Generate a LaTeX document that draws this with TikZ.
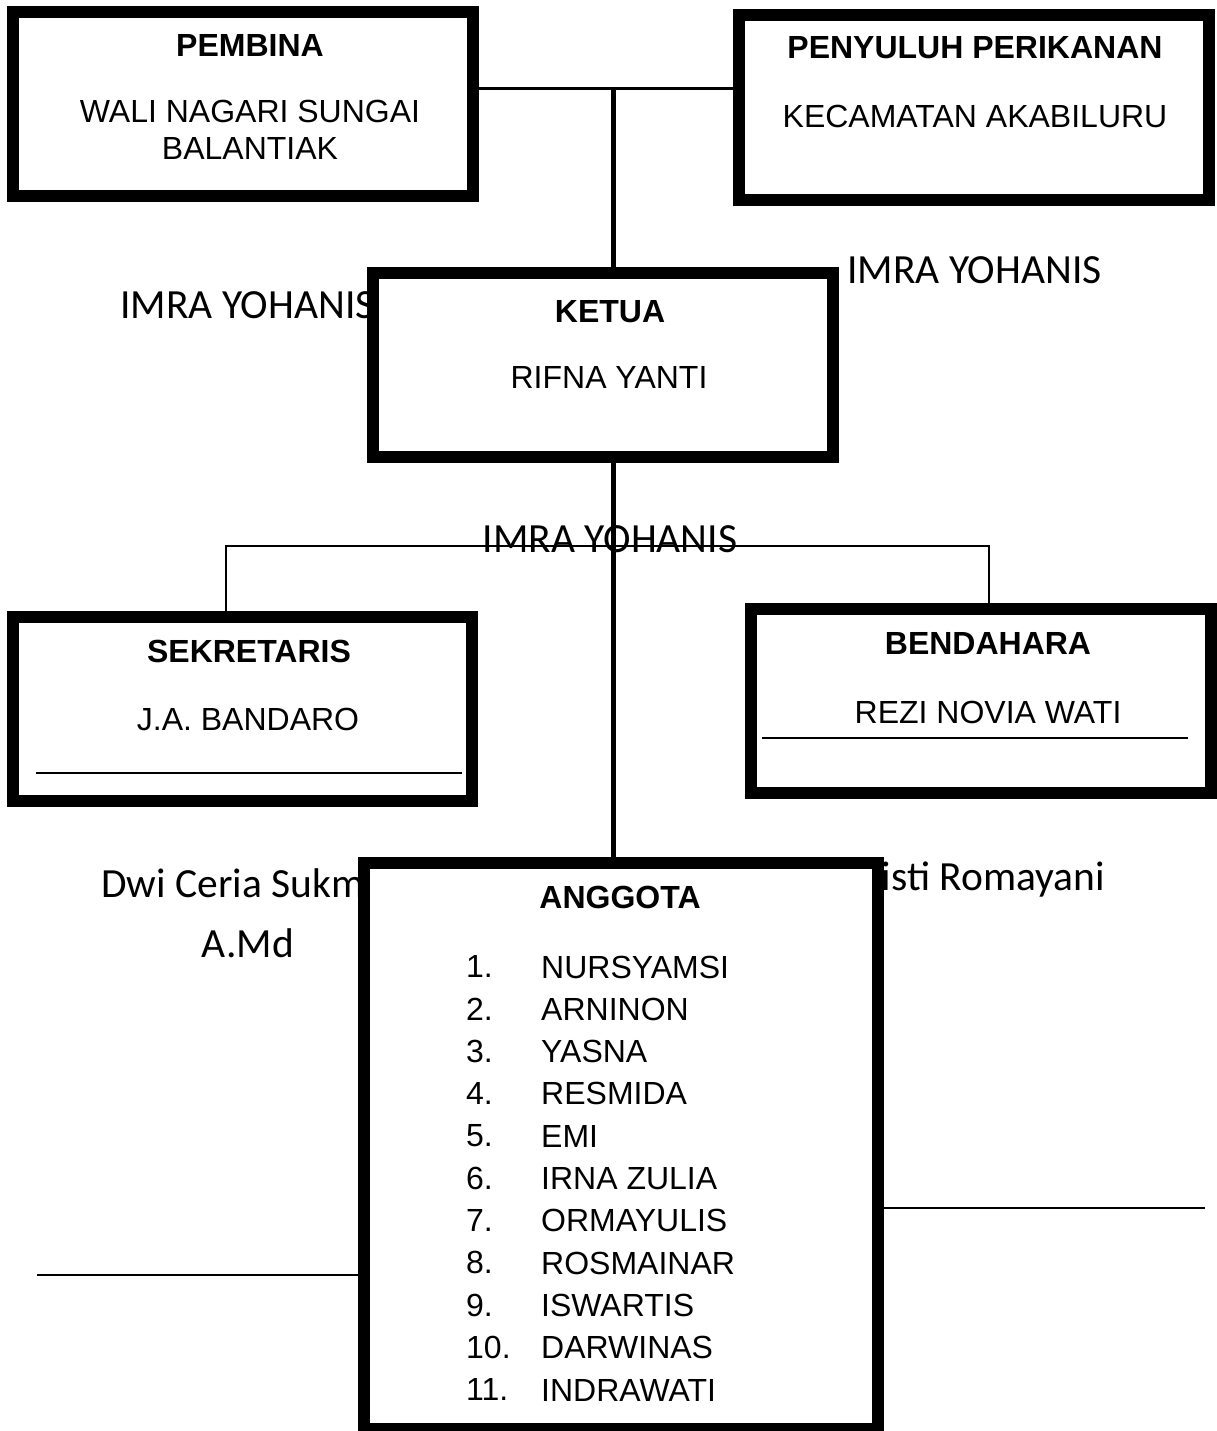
\documentclass[tikz,border=0pt]{standalone}
\usepackage{fontspec}
\setmainfont{Liberation Sans}
\newfontfamily\calibrifont{Carlito}
\usepackage{tikz}

\tikzset{
    kotak/.style={draw, line width=12pt, fill=white, inner sep=0pt},
    judul/.style={font=\bfseries\fontsize{32}{37}\selectfont, inner sep=0pt},
    isi/.style={font=\fontsize{32}{37}\selectfont, inner sep=0pt, align=center},
    daftar/.style={font=\fontsize{32}{42.3}\selectfont, inner sep=0pt, align=left, anchor=north west},
    nama/.style={font=\calibrifont\fontsize{41.5}{50}\selectfont, inner sep=0pt},
    garis/.style={line width=2pt}
}

\begin{document}
\begin{tikzpicture}[x=1pt, y=-1pt]
        \useasboundingbox (0,0) rectangle (1216,1431);
%
        \node[nama, anchor=base west] (imra1) at (120,318) {IMRA YOHANIS};
        \node[nama, anchor=base west] (imra2) at (847,283) {IMRA YOHANIS};
        \node[nama, anchor=base] (imra3) at (610,552) {IMRA YOHANIS};
        \node[nama, anchor=base west] (dwi) at (101,897) {Dwi Ceria Sukm};
        \node[nama, anchor=base] (amd) at (248,957) {A.Md};
        \node[nama, anchor=base east] (risti) at (1105,890) {Risti Romayani};
%
        \node[kotak, minimum width=460pt, minimum height=184pt] (pembina) at (243,104) {};
        \node[kotak, minimum width=470pt, minimum height=185pt] (penyuluh) at (974,107.5) {};
        \node[kotak, minimum width=460pt, minimum height=184pt] (ketua) at (603,365) {};
        \node[kotak, minimum width=459pt, minimum height=184pt] (sekretaris) at (242.5,709) {};
        \node[kotak, minimum width=460pt, minimum height=184pt] (bendahara) at (981,701) {};
        \node[kotak, minimum width=514pt, minimum height=566pt] (anggota) at (621,1146) {};
%
        \node[judul] (tpembina) at (250,45) {PEMBINA};
        \node[isi] (npembina) at (250,129.5) {WALI NAGARI SUNGAI\\BALANTIAK};
        \node[judul] (tpenyuluh) at (975,48) {PENYULUH PERIKANAN};
        \node[isi] (npenyuluh) at (975,116) {KECAMATAN AKABILURU};
        \node[judul] (tketua) at (610,312) {KETUA};
        \node[isi] (nketua) at (609,377) {RIFNA YANTI};
        \node[judul] (tsekretaris) at (249,651) {SEKRETARIS};
        \node[isi] (nsekretaris) at (248,719) {J.A. BANDARO};
        \node[judul] (tbendahara) at (988,643) {BENDAHARA};
        \node[isi] (nbendahara) at (988,712) {REZI NOVIA WATI};
        \node[judul] (tanggota) at (620,897) {ANGGOTA};
        \node[daftar] (nomor) at (466,955.5) {1.\\2.\\3.\\4.\\5.\\6.\\7.\\8.\\9.\\10.\\11.};
        \node[daftar] (anggotanama) at (541,955.5) {NURSYAMSI\\ARNINON\\YASNA\\RESMIDA\\EMI\\IRNA ZULIA\\ORMAYULIS\\ROSMAINAR\\ISWARTIS\\DARWINAS\\INDRAWATI};
%
        \coordinate (simpul) at (613,89);
        \coordinate (cabangkiri) at (226,546);
        \coordinate (cabangkanan) at (989,546);
        \coordinate (ks1) at (36,773);
        \coordinate (ks2) at (462,773);
        \coordinate (kb1) at (762,738);
        \coordinate (kb2) at (1188,738);
        \coordinate (ujungkiri) at (37,1275);
        \coordinate (ujungkanan) at (1205,1208);
%
        \draw[line width=3pt] (pembina.east |- simpul) -- (penyuluh.west |- simpul);
        \draw[line width=5pt] (simpul) -- (simpul |- ketua.north);
        \draw[line width=5pt] (ketua.south -| simpul) -- (simpul |- anggota.north);
        \draw[garis] (cabangkiri |- sekretaris.north) -- (cabangkiri) -- (cabangkanan) -- (cabangkanan |- bendahara.north);
        \draw[garis] (ks1) -- (ks2);
        \draw[garis] (kb1) -- (kb2);
        \draw[garis] (ujungkiri) -- (ujungkiri -| anggota.west);
        \draw[garis] (anggota.east |- ujungkanan) -- (ujungkanan);
\end{tikzpicture}
\end{document}
